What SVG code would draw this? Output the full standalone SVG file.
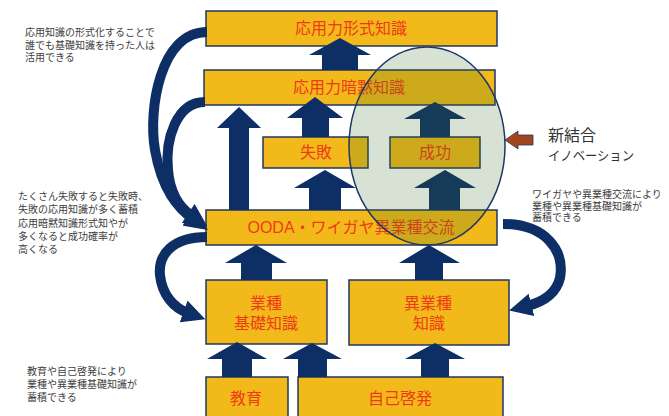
<svg xmlns="http://www.w3.org/2000/svg" width="669" height="416" viewBox="0 0 669 416">
<defs>
<style>
.box{fill:#f2b91a;stroke:#1f3763;stroke-width:1.5}
.lbl{font-family:"Liberation Sans","Noto Sans CJK JP",sans-serif;font-size:16px;fill:#ee3b17;text-anchor:middle}
.note{font-family:"Liberation Sans","Noto Sans CJK JP",sans-serif;font-size:10px;fill:#404040}
.side{font-family:"Liberation Sans","Noto Sans CJK JP",sans-serif;fill:#333333}
.arr{fill:#0d2f66}
.curve{fill:none;stroke:#0d2f66;stroke-width:10}
</style>
<marker id="ah" viewBox="0 0 10 10" refX="2" refY="5" markerWidth="2.3" markerHeight="2.3" orient="auto">
<path d="M0,0 L10,5 L0,10 Z" fill="#0d2f66"/>
</marker>
</defs>
<rect width="669" height="416" fill="#ffffff"/>

<g id="n-keishiki"><rect class="box" x="206" y="11" width="291" height="35"/><text class="lbl" x="351" y="34">応用力形式知識</text></g>
<g id="n-anmoku"><rect class="box" x="204" y="70" width="291" height="35"/><text class="lbl" x="349" y="93">応用力暗黙知識</text></g>
<g id="n-shippai"><rect class="box" x="263" y="137" width="105" height="31"/><text class="lbl" x="316" y="158">失敗</text></g>
<g id="n-seiko"><rect class="box" x="390" y="137" width="90" height="31"/><text class="lbl" x="435" y="158">成功</text></g>
<g id="n-ooda"><rect class="box" x="206" y="210" width="291" height="35"/><text class="lbl" x="351" y="233">OODA・ワイガヤ異業種交流</text></g>
<g id="n-gyoshu"><rect class="box" x="206" y="280" width="121" height="64"/><text class="lbl" x="266" y="309">業種</text><text class="lbl" x="266" y="329">基礎知識</text></g>
<g id="n-igyoshu"><rect class="box" x="349" y="280" width="160" height="65"/><text class="lbl" x="428" y="309">異業種</text><text class="lbl" x="429" y="329">知識</text></g>
<g id="n-kyoiku"><rect class="box" x="206" y="377" width="82" height="45"/><text class="lbl" x="246" y="404">教育</text></g>
<g id="n-jiko"><rect class="box" x="298" y="377" width="205" height="45"/><text class="lbl" x="400" y="404">自己啓発</text></g>

<g id="connectors">
<polygon class="arr" points="340,38 371,55 358,55 358,70 322,70 322,55 309,55"/>
<polygon class="arr" points="239,107 261,128 249,128 249,210 229,210 229,128 217,128"/>
<polygon class="arr" points="315,97 343,118 329,118 329,137 302,137 302,118 287,118"/>
<polygon class="arr" points="325,170 356,188 341,188 341,210 309,210 309,188 294,188"/>
<polygon class="arr" points="435,102 466,119 450,119 450,137 420,137 420,119 404,119"/>
<polygon class="arr" points="445,170 476,188 460,188 460,210 429,210 429,188 414,188"/>
<polygon class="arr" points="256,245 287,263 272,263 272,280 241,280 241,263 225,263"/>
<polygon class="arr" points="429,245 460,263 443,263 443,280 415,280 415,263 399,263"/>
<polygon class="arr" points="237,342 267,359 252,359 252,377 222,377 222,359 207,359"/>
<polygon class="arr" points="312,343 342,359 327,359 327,377 298,377 298,359 283,359"/>
<polygon class="arr" points="435,343 465,359 449,359 449,377 421,377 421,359 405,359"/>
<path class="curve" d="M207,32 C160,32 148,110 155,150 C162,190 178,208 193,219" marker-end="url(#ah)"/>
<path class="curve" d="M205,102 C176,102 165,140 168,170 C170,194 180,208 192,216" marker-end="url(#ah)"/>
<path class="curve" d="M207,237 C172,237 158,255 160,275 C162,295 174,308 188,313" marker-end="url(#ah)"/>
<path class="curve" d="M503,224 C545,224 565,250 560,278 C556,294 543,302 527,306" marker-end="url(#ah)"/>
<polygon points="505,140 518,131 518,135 533,135 533,145 518,145 518,149" fill="#a3451d" stroke="#1f3763" stroke-width="0.8"/>
</g>

<ellipse cx="427" cy="146" rx="78" ry="99" fill="#3c6e28" fill-opacity="0.2" stroke="#1f3763" stroke-width="1.5"/>

<g id="notes">
<text class="note"><tspan x="25" y="36">応用知識の形式化することで</tspan><tspan x="25" y="48.5">誰でも基礎知識を持った人は</tspan><tspan x="25" y="61">活用できる</tspan></text>
<text class="note"><tspan x="18" y="200">たくさん失敗すると失敗時、</tspan><tspan x="18" y="213.3">失敗の応用知識が多く蓄積</tspan><tspan x="18" y="226.6">応用暗黙知識形式知やが</tspan><tspan x="18" y="240">多くなると成功確率が</tspan><tspan x="18" y="253.3">高くなる</tspan></text>
<text class="note"><tspan x="532" y="198">ワイガヤや異業種交流により</tspan><tspan x="532" y="209.5">業種や異業種基礎知識が</tspan><tspan x="532" y="221">蓄積できる</tspan></text>
<text class="note"><tspan x="27" y="375">教育や自己啓発により</tspan><tspan x="27" y="388">業種や異業種基礎知識が</tspan><tspan x="27" y="401">蓄積できる</tspan></text>
<text class="side" x="548" y="141" font-size="16">新結合</text>
<text class="side" x="548" y="160" font-size="13" textLength="86" lengthAdjust="spacingAndGlyphs">イノベーション</text>
</g>
</svg>
